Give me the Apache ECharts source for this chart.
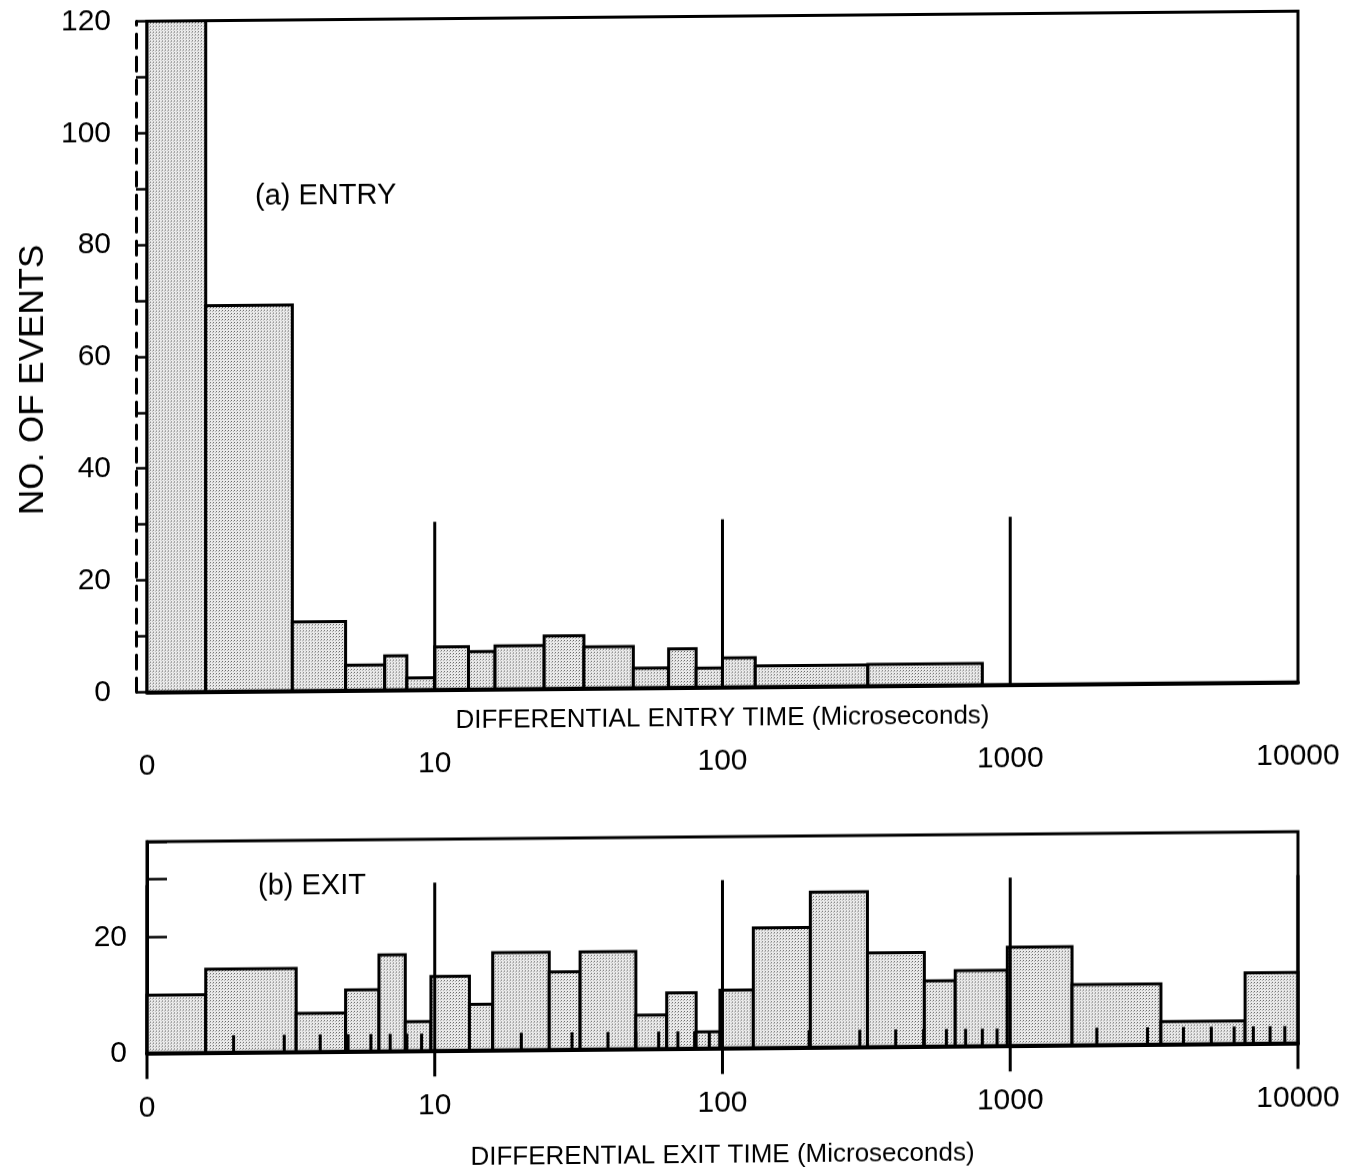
<!DOCTYPE html>
<html>
<head>
<meta charset="utf-8">
<script src="https://cdn.jsdelivr.net/npm/echarts@6/dist/echarts.min.js"></script>
<style>
  html, body { margin: 0; padding: 0; background: #fff; }
  #chart { width: 1360px; height: 1176px; transform: skewY(-0.5deg); transform-origin: 0 0; }
</style>
</head>
<body>
<div id="chart"></div>
<script>
// ---- data (times in microseconds, counts = no. of events) ----
const xTickValues = [1, 10, 100, 1000, 10000];
const xTickLabels = ['0', '10', '100', '1000', '10000'];

const entryEdges  = [1, 1.6, 3.2, 4.9, 6.7, 8, 10, 13.1, 16.2, 24, 33, 49, 65, 81, 100, 130, 320, 800];
const entryCounts = [120, 69, 12.3, 4.5, 6.1, 2.1, 7.6, 6.7, 7.7, 9.4, 7.4, 3.5, 6.9, 3.4, 5.2, 3.7, 3.8];

const exitEdges  = [1, 1.6, 3.3, 4.9, 6.4, 7.9, 9.7, 13.2, 15.9, 25, 32, 50, 64, 81, 98, 128, 202, 319, 503, 644, 977, 1640, 3340, 6550, 10000];
const exitCounts = [10.0, 14.4, 6.6, 10.6, 16.6, 5.0, 12.8, 7.9, 16.8, 13.4, 16.8, 5.8, 9.6, 2.8, 10.0, 20.7, 26.8, 16.2, 11.3, 13.0, 17.0, 10.4, 3.9, 12.2];

const entryDecadeMarks = [10, 100, 1000];
const entryDecadeMarkHeight = 30;
const exitDecadeMarks = [1, 10, 100, 1000, 10000];
const exitDecadeMarkHeight = 29;

const entryYTickLabels = [0, 20, 40, 60, 80, 100, 120];
const exitYTickLabels = [0, 20];

// minor log ticks (2..9 in each decade) on the exit axis
const exitMinorTicks = [];
[1, 10, 100, 1000].forEach(d => { for (let k = 2; k <= 9; k++) exitMinorTicks.push(d * k); });

// ---- build ----
const FONT = '"Liberation Sans", Arial, Helvetica, sans-serif';

const pc = document.createElement('canvas');
pc.width = 3; pc.height = 3;
const pctx = pc.getContext('2d');
pctx.fillStyle = '#eaeaea'; pctx.fillRect(0, 0, 3, 3);
pctx.fillStyle = '#666666'; pctx.fillRect(0, 0, 1, 1);
pctx.fillStyle = '#b0b0b0'; pctx.fillRect(2, 1, 1, 1);
const stipple = { image: pc, repeat: 'repeat' };

function bins(edges, counts) {
  return counts.map((c, i) => [edges[i], edges[i + 1], c]);
}

function renderBar(params, api) {
  const p0 = api.coord([api.value(0), 0]);
  const p1 = api.coord([api.value(1), api.value(2)]);
  return {
    type: 'rect',
    shape: { x: p0[0], y: p1[1], width: p1[0] - p0[0], height: p0[1] - p1[1] },
    style: { fill: stipple, stroke: '#000', lineWidth: 3 }
  };
}

function makeMarkRender(below) {
  return function (params, api) {
    const p0 = api.coord([api.value(0), 0]);
    const p1 = api.coord([api.value(0), api.value(1)]);
    return {
      type: 'line',
      shape: { x1: p0[0], y1: p0[1] + below, x2: p1[0], y2: p1[1] },
      style: { stroke: '#000', lineWidth: 3 }
    };
  };
}

function renderMinor(params, api) {
  const p0 = api.coord([api.value(0), 0]);
  return {
    type: 'line',
    shape: { x1: p0[0], y1: p0[1], x2: p0[0], y2: p0[1] - 17 },
    style: { stroke: '#000', lineWidth: 3 }
  };
}

function xLabel(v) {
  const i = xTickValues.findIndex(t => Math.abs(t - v) < 1e-6 * t);
  return i >= 0 ? xTickLabels[i] : '';
}

function xAxisCfg(grid, name, margin, nameGap) {
  return {
    type: 'log', logBase: 10, gridIndex: grid, min: 1, max: 10000,
    axisLine: { show: true, lineStyle: { color: '#000', width: 4 } },
    axisTick: { show: false }, splitLine: { show: false }, minorTick: { show: false },
    axisLabel: { margin: margin, fontSize: 30, color: '#000', fontFamily: FONT, formatter: xLabel },
    name: name, nameLocation: 'middle', nameGap: nameGap, nameMoveOverlap: false,
    nameTextStyle: { fontSize: 26, color: '#000', fontFamily: FONT }
  };
}

const chart = echarts.init(document.getElementById('chart'), null, { renderer: 'canvas' });

chart.setOption({
  animation: false,
  backgroundColor: '#fff',
  textStyle: { fontFamily: FONT, color: '#000' },
  grid: [
    { left: 147, top: 22.5, width: 1151, height: 670.8, show: true, borderColor: '#000', borderWidth: 3, containLabel: false, outerBoundsMode: 'none' },
    { left: 147, top: 843, width: 1151, height: 211.3, show: true, borderColor: '#000', borderWidth: 3, containLabel: false, outerBoundsMode: 'none' }
  ],
  xAxis: [
    xAxisCfg(0, 'DIFFERENTIAL ENTRY TIME (Microseconds)', 59, 19),
    xAxisCfg(1, 'DIFFERENTIAL EXIT TIME (Microseconds)', 40, 95)
  ],
  yAxis: [
    {
      type: 'value', gridIndex: 0, min: 0, max: 120, interval: 10,
      axisLine: { show: true, lineStyle: { color: '#000', width: 3 } },
      axisTick: { show: true, inside: true, length: 12, lineStyle: { color: '#000', width: 2.5 } },
      splitLine: { show: false },
      axisLabel: { margin: 36, fontSize: 30, color: '#000', fontFamily: FONT,
        formatter: v => entryYTickLabels.indexOf(v) >= 0 ? String(v) : '' }
    },
    {
      type: 'value', gridIndex: 0, min: 0, max: 120, interval: 10, offset: 11, position: 'left',
      axisLine: { show: true, lineStyle: { color: '#000', width: 3, type: [14, 9] } },
      axisTick: { show: true, inside: true, length: 11, lineStyle: { color: '#000', width: 2.5 } },
      splitLine: { show: false }, axisLabel: { show: false }
    },
    {
      type: 'value', gridIndex: 1, min: 0, max: 36.5, interval: 10,
      axisLine: { show: true, lineStyle: { color: '#000', width: 3 } },
      axisTick: { show: true, inside: true, length: 20, lineStyle: { color: '#000', width: 2.5 } },
      splitLine: { show: false },
      axisLabel: { margin: 20, fontSize: 30, color: '#000', fontFamily: FONT, padding: [0, 0, 12, 0],
        formatter: v => exitYTickLabels.indexOf(v) >= 0 ? String(v) : '' }
    }
  ],
  series: [
    { type: 'custom', name: 'entry', xAxisIndex: 0, yAxisIndex: 0, data: bins(entryEdges, entryCounts),
      encode: { x: [0, 1], y: 2 }, renderItem: renderBar, z: 2 },
    { type: 'custom', name: 'entryMarks', xAxisIndex: 0, yAxisIndex: 0,
      data: entryDecadeMarks.map(v => [v, entryDecadeMarkHeight]),
      encode: { x: 0, y: 1 }, renderItem: makeMarkRender(0), z: 3 },
    { type: 'custom', name: 'exit', xAxisIndex: 1, yAxisIndex: 2, data: bins(exitEdges, exitCounts),
      encode: { x: [0, 1], y: 2 }, renderItem: renderBar, z: 2 },
    { type: 'custom', name: 'exitMinor', xAxisIndex: 1, yAxisIndex: 2,
      data: exitMinorTicks.map(v => [v, 0]),
      encode: { x: 0, y: 1 }, renderItem: renderMinor, z: 3 },
    { type: 'custom', name: 'exitMarks', xAxisIndex: 1, yAxisIndex: 2,
      data: exitDecadeMarks.map(v => [v, exitDecadeMarkHeight]),
      encode: { x: 0, y: 1 }, renderItem: makeMarkRender(26), z: 3, clip: false }
  ],
  graphic: [
    { type: 'text', x: 33, y: 380, rotation: Math.PI / 2,
      style: { text: 'NO. OF EVENTS', font: '35px ' + FONT, fill: '#000', textAlign: 'center', textVerticalAlign: 'middle' } },
    { type: 'text', x: 255, y: 199,
      style: { text: '(a) ENTRY', font: '29px ' + FONT, fill: '#000', textAlign: 'left', textVerticalAlign: 'middle' } },
    { type: 'text', x: 258, y: 889,
      style: { text: '(b) EXIT', font: '29px ' + FONT, fill: '#000', textAlign: 'left', textVerticalAlign: 'middle' } }
  ]
});
</script>
</body>
</html>
